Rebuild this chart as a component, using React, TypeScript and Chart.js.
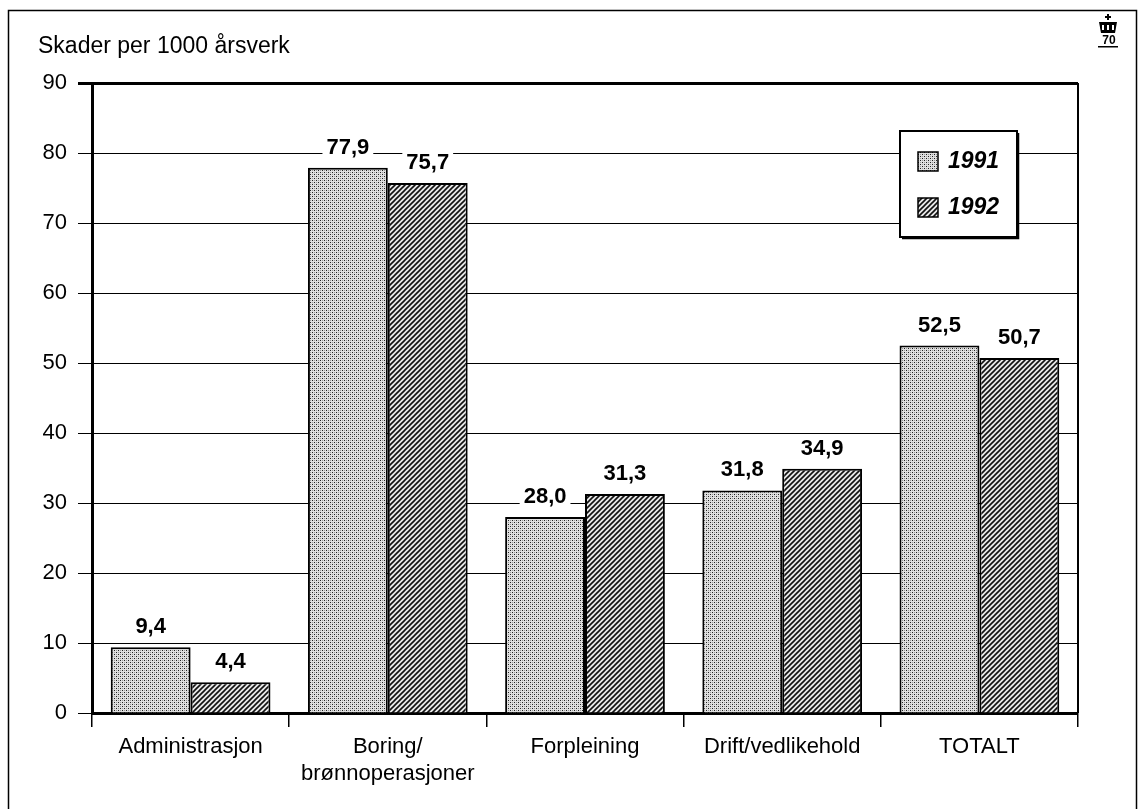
import React, { useEffect, useRef } from "react";
import { Chart, registerables } from "chart.js";

Chart.register(...registerables);

const categories: string[][] = [
  ["Administrasjon"],
  ["Boring/", "brønnoperasjoner"],
  ["Forpleining"],
  ["Drift/vedlikehold"],
  ["TOTALT"],
];
const seriesNames = ["1991", "1992"];
const values1991 = [9.4, 77.9, 28.0, 31.8, 52.5];
const values1992 = [4.4, 75.7, 31.3, 34.9, 50.7];
const yMin = 0;
const yMax = 90;
const yStep = 10;
const yTitle = "Skader per 1000 årsverk";

const FONT = '"Liberation Sans", Arial, Helvetica, sans-serif';

function stipplePattern(): CanvasPattern | string {
  const c = document.createElement("canvas");
  c.width = 4;
  c.height = 4;
  const g = c.getContext("2d");
  if (!g) return "#ccc";
  g.fillStyle = "#e0e0e0";
  g.fillRect(0, 0, 4, 4);
  g.fillStyle = "#222";
  g.fillRect(0, 0, 1, 1);
  g.fillRect(2, 2, 1, 1);
  g.fillStyle = "#999";
  g.fillRect(2, 0, 1, 1);
  g.fillRect(0, 2, 1, 1);
  const p = g.createPattern(c, "repeat");
  return p || "#ccc";
}

function hatchPattern(): CanvasPattern | string {
  const s = 5;
  const c = document.createElement("canvas");
  c.width = s;
  c.height = s;
  const g = c.getContext("2d");
  if (!g) return "#888";
  g.fillStyle = "#e8e8e8";
  g.fillRect(0, 0, s, s);
  g.strokeStyle = "#111";
  g.lineWidth = 1.6;
  g.beginPath();
  g.moveTo(-1, s + 1);
  g.lineTo(s + 1, -1);
  g.moveTo(-1, 1);
  g.lineTo(1, -1);
  g.moveTo(s - 1, s + 1);
  g.lineTo(s + 1, s - 1);
  g.stroke();
  const p = g.createPattern(c, "repeat");
  return p || "#888";
}

const fmt = (v: number) => v.toFixed(1).replace(".", ",");

export default function App() {
  const ref = useRef<HTMLCanvasElement | null>(null);

  useEffect(() => {
    if (!ref.current) return;
    const fills = [stipplePattern(), hatchPattern()];

    const decorations = {
      id: "decorations",
      afterDatasetsDraw(chart: any) {
        const ctx = chart.ctx as CanvasRenderingContext2D;
        const area = chart.chartArea;
        ctx.save();
        // right edge of the plot frame
        ctx.strokeStyle = "#000";
        ctx.lineWidth = 2;
        ctx.beginPath();
        ctx.moveTo(area.right, area.top);
        ctx.lineTo(area.right, area.bottom);
        ctx.stroke();

        // value labels above each bar
        ctx.font = `bold 22px ${FONT}`;
        ctx.textAlign = "center";
        ctx.textBaseline = "middle";
        chart.data.datasets.forEach((ds: any, di: number) => {
          const meta = chart.getDatasetMeta(di);
          meta.data.forEach((bar: any, i: number) => {
            const text = fmt(ds.data[i]);
            const w = ctx.measureText(text).width;
            const cy = bar.y - 21;
            ctx.fillStyle = "#fff";
            ctx.fillRect(bar.x - w / 2 - 4, cy - 11, w + 8, 22);
            ctx.fillStyle = "#000";
            ctx.fillText(text, bar.x, cy + 1);
          });
        });
        ctx.restore();
      },
      afterDraw(chart: any) {
        const ctx = chart.ctx as CanvasRenderingContext2D;
        ctx.save();
        // page frame
        ctx.strokeStyle = "#000";
        ctx.lineWidth = 1.5;
        ctx.beginPath();
        ctx.moveTo(8.5, 812);
        ctx.lineTo(8.5, 10.5);
        ctx.lineTo(1136.5, 10.5);
        ctx.lineTo(1136.5, 812);
        ctx.stroke();

        // axis title
        ctx.fillStyle = "#000";
        ctx.font = `23px ${FONT}`;
        ctx.textAlign = "left";
        ctx.textBaseline = "middle";
        ctx.fillText(yTitle, 38, 47);

        // legend
        const lx = 900, ly = 131, lw = 117, lh = 106;
        ctx.fillStyle = "#fff";
        ctx.fillRect(lx, ly, lw, lh);
        ctx.lineWidth = 2;
        ctx.strokeStyle = "#000";
        ctx.strokeRect(lx, ly, lw, lh);
        ctx.lineWidth = 1.5;
        ctx.beginPath();
        ctx.moveTo(lx + lw + 1.5, ly + 2);
        ctx.lineTo(lx + lw + 1.5, ly + lh + 1.5);
        ctx.lineTo(lx + 2, ly + lh + 1.5);
        ctx.stroke();
        seriesNames.forEach((name, i) => {
          const sy = 152 + i * 46;
          ctx.fillStyle = fills[i] as any;
          ctx.fillRect(918, sy, 20, 19);
          ctx.strokeStyle = "#000";
          ctx.lineWidth = 1.5;
          ctx.strokeRect(918, sy, 20, 19);
          ctx.fillStyle = "#000";
          ctx.font = `italic bold 23px ${FONT}`;
          ctx.textAlign = "left";
          ctx.textBaseline = "middle";
          ctx.fillText(name, 948, sy + 10);
        });

        // small crown emblem in the corner
        const ex = 1108, ey = 14;
        ctx.fillStyle = "#000";
        ctx.fillRect(ex - 1, ey, 2, 6);
        ctx.fillRect(ex - 3, ey + 2, 6, 2);
        ctx.beginPath();
        ctx.moveTo(ex - 9, ey + 8);
        ctx.lineTo(ex + 9, ey + 8);
        ctx.lineTo(ex + 7, ey + 19);
        ctx.lineTo(ex - 7, ey + 19);
        ctx.closePath();
        ctx.fill();
        ctx.fillStyle = "#fff";
        for (let k = -1; k <= 1; k++) ctx.fillRect(ex + k * 5 - 1, ey + 11, 2, 5);
        ctx.fillStyle = "#000";
        ctx.font = `bold 12px ${FONT}`;
        ctx.textAlign = "center";
        ctx.fillText("70", ex + 1, ey + 27);
        ctx.fillRect(ex - 10, ey + 32, 20, 1.5);
        ctx.restore();
      },
    };

    const chart = new Chart(ref.current, {
      type: "bar",
      data: {
        labels: categories,
        datasets: [
          {
            label: seriesNames[0],
            data: values1991,
            backgroundColor: fills[0] as any,
            borderColor: "#000",
            borderWidth: 2,
            categoryPercentage: 0.81,
            barPercentage: 1,
          },
          {
            label: seriesNames[1],
            data: values1992,
            backgroundColor: fills[1] as any,
            borderColor: "#000",
            borderWidth: 2,
            categoryPercentage: 0.81,
            barPercentage: 1,
          },
        ],
      },
      options: {
        responsive: false,
        animation: false,
        events: [],
        layout: { padding: { left: 0, top: 83, right: 60, bottom: 0 } },
        plugins: {
          legend: { display: false },
          tooltip: { enabled: false },
          title: { display: false },
        },
        scales: {
          x: {
            type: "category",
            offset: true,
            afterFit: (s: any) => {
              s.height = 96;
            },
            grid: {
              offset: true,
              drawOnChartArea: false,
              drawTicks: true,
              tickLength: 14,
              color: "#000",
              lineWidth: 1.5,
            },
            border: { display: true, color: "#000", width: 3 },
            ticks: {
              color: "#000",
              font: { family: FONT, size: 22 },
              padding: 7,
              maxRotation: 0,
              autoSkip: false,
            },
          },
          y: {
            min: yMin,
            max: yMax,
            afterFit: (s: any) => {
              s.width = 92;
            },
            ticks: {
              stepSize: yStep,
              color: "#000",
              font: { family: FONT, size: 22 },
              padding: 11,
              callback: (v: any) => String(v),
            },
            grid: {
              color: "#000",
              lineWidth: (c: any) => (c.tick && c.tick.value === yMax ? 3 : 1),
              tickLength: 14,
            },
            border: { display: true, color: "#000", width: 3 },
          },
        },
      },
      plugins: [decorations],
    });

    return () => chart.destroy();
  }, []);

  return (
    <div style={{ position: "fixed", left: 0, top: 0, width: 1138, height: 809, background: "#fff" }}>
      <canvas ref={ref} width={1138} height={809} style={{ width: 1138, height: 809, display: "block" }} />
    </div>
  );
}
